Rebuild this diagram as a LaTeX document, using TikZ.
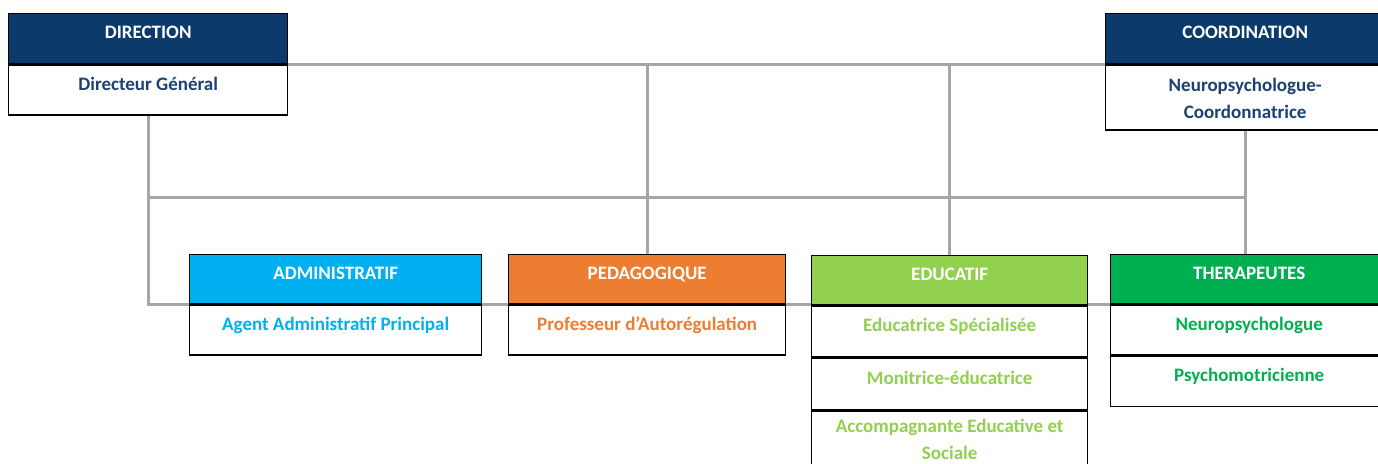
\documentclass[tikz,border=0pt]{standalone}
\usepackage{fontspec}
\setmainfont{Carlito}
\usetikzlibrary{positioning,backgrounds}
\definecolor{navy}{HTML}{0B3A6B}
\definecolor{navytext}{HTML}{1B4272}
\definecolor{cyanbox}{HTML}{00B0F0}
\definecolor{orangebox}{HTML}{ED7D31}
\definecolor{lightgreenbox}{HTML}{92D050}
\definecolor{greenbox}{HTML}{00B050}
\definecolor{linkgray}{HTML}{A6A6A6}
\begin{document}
\begin{tikzpicture}[x=1pt, y=-1pt, thick,
		head/.style={draw=black, line width=1.4pt, rectangle, anchor=north west, minimum height=50pt, inner sep=0pt, text height=12pt, text depth=12pt, text=white, font=\fontsize{19}{27}\selectfont\bfseries},
		role/.style={draw=black, line width=1.4pt, rectangle, fill=white, minimum height=50pt, inner sep=0pt, text height=12pt, text depth=12pt, align=center, font=\fontsize{19}{27}\selectfont\bfseries},
		tworole/.style={role, minimum height=65pt, text height=53pt, text depth=12pt},
		link/.style={draw=linkgray, line width=3pt}]
		\clip (0,0) rectangle (1378,463);
		% top row
		\node (dir) [head, fill=navy, minimum width=279pt] at (8,13) {DIRECTION};
		\node (dirbody) [role, text=navytext, minimum width=279pt, below=0pt of dir] {Directeur Général};
		\node (coord) [head, fill=navy, minimum width=279pt] at (1105,13) {COORDINATION};
		\node (coordbody) [tworole, text=navytext, minimum width=279pt, below=0pt of coord] {Neuropsychologue-\\Coordonnatrice};
		% lower row
		\node (adm) [head, fill=cyanbox, minimum width=292pt, minimum height=49pt] at (189,254) {ADMINISTRATIF};
		\node (admbody) [role, text=cyanbox, minimum width=292pt, below=0pt of adm] {Agent Administratif Principal};
		\node (ped) [head, fill=orangebox, minimum width=277pt, minimum height=49pt] at (508,254) {PEDAGOGIQUE};
		\node (pedbody) [role, text=orangebox, minimum width=277pt, below=0pt of ped] {Professeur d’Autorégulation};
		\node (edu) [head, fill=lightgreenbox, minimum width=276pt, minimum height=49pt] at (811,255) {EDUCATIF};
		\node (edu1) [role, text=lightgreenbox, minimum width=276pt, minimum height=51pt, below=0pt of edu] {Educatrice Spécialisée};
		\node (edu2) [role, text=lightgreenbox, minimum width=276pt, minimum height=51pt, below=0pt of edu1] {Monitrice-éducatrice};
		\node (edu3) [tworole, text height=45pt, text=lightgreenbox, minimum width=276pt, below=0pt of edu2] {Accompagnante Educative et\\Sociale};
		\node (ther) [head, fill=greenbox, minimum width=277pt, minimum height=49pt] at (1110,254) {THERAPEUTES};
		\node (ther1) [role, text=greenbox, minimum width=277pt, below=0pt of ther] {Neuropsychologue};
		\node (ther2) [role, text=greenbox, minimum width=277pt, below=0pt of ther1] {Psychomotricienne};
		% connectors
		\coordinate (bus) at (0,197);
		\begin{scope}[on background layer]
		\draw[link] (dir.south east) -- (coord.south west);
		\draw[link] (dirbody.south |- bus) -- (coordbody.south |- bus);
		\draw[link] (dirbody.south) |- (ther.south west);
		\draw[link] (ped.north) -- (ped.north |- dir.south east);
		\draw[link] (edu.north) -- (edu.north |- dir.south east);
		\draw[link] (coordbody.south) -- (coordbody.south |- ther.north);
		\end{scope}
	\end{tikzpicture}
\end{document}
